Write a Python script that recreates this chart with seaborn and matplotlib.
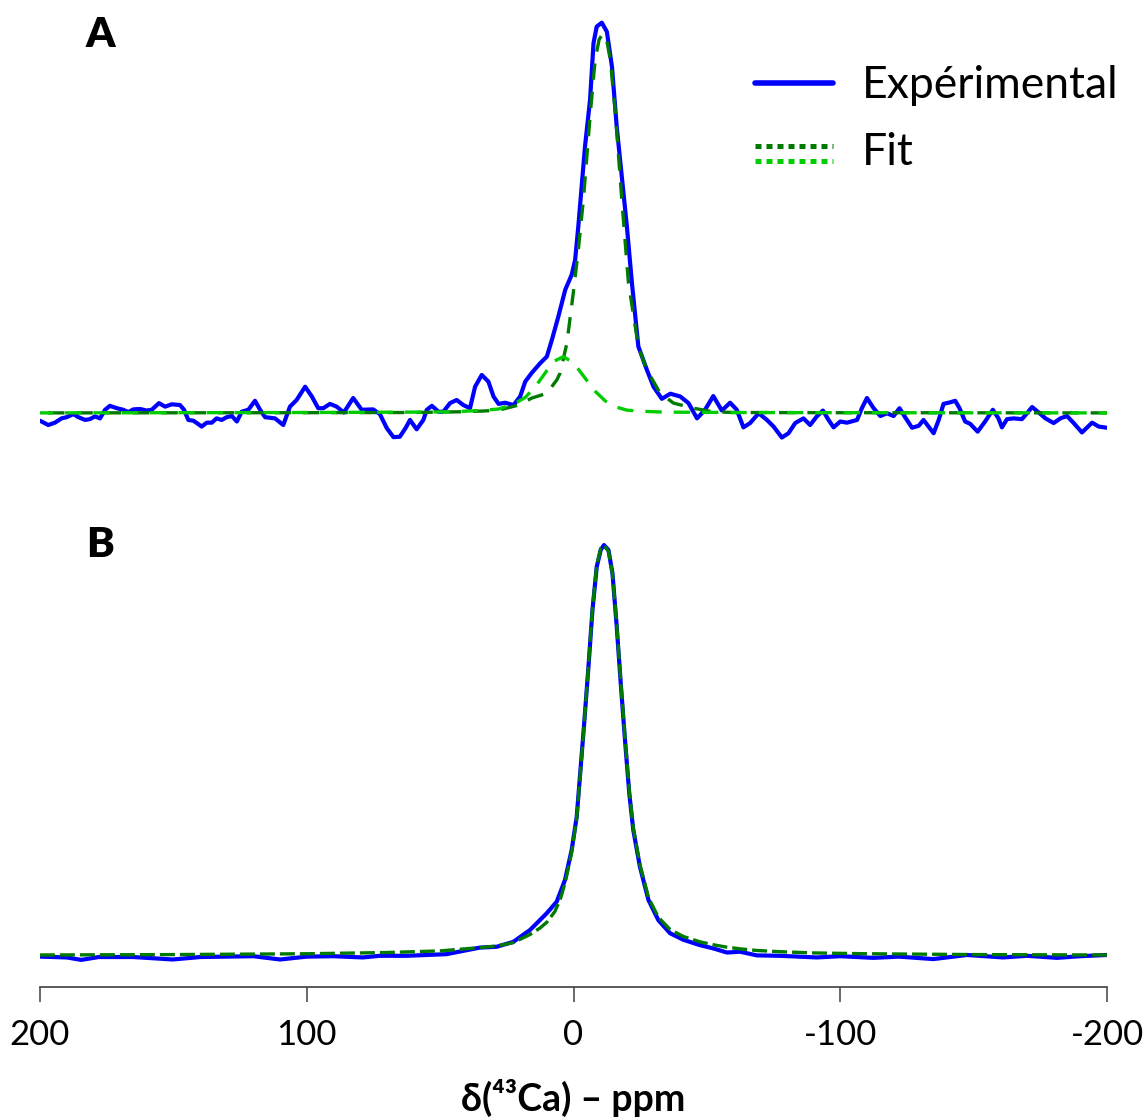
import matplotlib
matplotlib.use("Agg")
import matplotlib.pyplot as plt
import seaborn as sns

# ─── Data ────────────────────────────────────────────────────────────────────
# Panel A: experimental spectrum (noisy), chemical shift in ppm / relative intensity
A_exp_ppm = [200.0, 196.9, 194.4, 191.9, 190.0, 187.5, 185.6, 183.1, 181.3, 179.4,
             177.5, 175.6, 173.8, 171.2, 168.8, 166.9, 165.0, 162.5, 160.0, 158.1,
             155.4, 153.1, 150.6, 147.5, 146.0, 144.4, 142.5, 141.2, 139.4, 137.5,
             135.6, 133.8, 131.9, 130.0, 128.1, 126.2, 124.4, 121.9, 119.4, 117.5,
             115.6, 111.9, 108.8, 106.3, 103.8, 100.6, 98.1, 95.7, 93.8, 91.3,
             88.8, 86.1, 82.6, 79.4, 75.1, 72.6, 70.0, 67.5, 65.1, 62.8,
             61.3, 58.8, 56.3, 55.0, 53.1, 50.6, 48.8, 46.3, 43.8, 41.3,
             38.8, 36.9, 34.4, 31.9, 30.0, 28.1, 25.6, 22.5, 20.0, 18.1,
             15.7, 12.5, 10.0, 8.1, 5.7, 3.1, 0.7, -0.6, -1.8, -2.4,
             -4.3, -6.2, -7.5, -8.7, -10.6, -12.5, -14.4, -16.2, -18.1, -20.0,
             -21.9, -24.3, -27.5, -30.0, -33.1, -36.3, -40.0, -43.1, -46.3, -49.3,
             -52.4, -55.6, -58.7, -61.2, -63.7, -66.2, -69.4, -72.5, -75.0, -78.1,
             -80.6, -83.1, -86.2, -88.7, -91.2, -93.5, -95.6, -97.5, -100.0, -102.5,
             -106.3, -108.1, -110.0, -112.5, -115.0, -117.5, -120.0, -122.2, -124.4, -126.9,
             -129.4, -131.2, -133.1, -135.0, -136.9, -138.7, -141.2, -143.1, -144.7, -146.8,
             -148.7, -151.5, -154.3, -157.2, -159.3, -160.6, -162.5, -165.0, -168.1, -170.0,
             -171.9, -174.4, -176.9, -180.0, -182.5, -185.0, -187.5, -190.6, -194.4, -196.9,
             -200.0]
A_exp_int = [-2.0, -3.1, -2.5, -1.4, -1.1, -0.3, -1.1, -1.8, -1.6, -0.9,
             -1.4, 0.8, 1.8, 1.2, 0.8, 0.2, 0.9, 1.0, 0.6, 0.8,
             2.5, 1.6, 2.2, 2.0, 0.8, -1.8, -2.0, -2.6, -3.5, -2.5,
             -2.5, -1.4, -1.8, -1.1, -0.8, -2.2, 0.3, 0.8, 3.1, 0.8,
             -1.1, -1.4, -3.1, 1.6, 3.3, 6.7, 4.2, 1.2, 1.2, 2.3,
             1.6, 0.1, 3.8, 0.8, 0.9, -0.3, -3.9, -6.2, -6.1, -3.7,
             -1.8, -4.2, -1.8, 0.8, 1.8, 0.3, 0.3, 2.5, 3.3, 2.0,
             1.2, 6.7, 9.7, 8.0, 4.2, 2.3, 2.6, 2.0, 4.2, 8.0,
             10.2, 12.7, 14.4, 18.7, 24.6, 31.5, 35.3, 39.1, 47.7, 52.8,
             68.1, 80.1, 94.6, 98.8, 99.8, 97.5, 88.6, 73.2, 60.4, 47.7,
             33.2, 17.0, 11.0, 6.7, 3.6, 4.9, 4.2, 2.5, -1.4, 0.8,
             4.3, 0.6, 2.6, 0.8, -3.7, -2.6, -0.1, -1.8, -3.5, -6.3,
             -5.2, -2.6, -1.4, -3.1, -0.9, 0.6, -1.8, -3.7, -2.2, -2.5,
             -1.8, 1.2, 3.8, 1.2, -0.8, -0.1, -0.8, 1.2, -1.2, -3.8,
             -3.3, -1.8, -3.5, -5.2, -1.8, 2.3, 2.7, 3.1, 1.2, -2.2,
             -2.8, -4.8, -2.2, 0.8, -1.4, -3.7, -1.6, -1.4, -1.6, -0.1,
             1.5, 0.1, -1.4, -2.6, -1.4, -0.8, -2.6, -5.0, -2.5, -3.5,
             -3.8]

# Panel A: main fitted component (dark green)
A_fit1_ppm = [200, 100, 60, 41, 33, 27.5, 20.6, 15.6, 10.0, 6.3, 5.0, 2.5, 0.1,
              -1.8, -3.7, -6.2, -8.1, -9.6, -11.0, -12.4, -13.8, -15.6, -18.1,
              -20.6, -24.3, -27.5, -32.5, -37.5, -45, -52, -60, -100, -200]
A_fit1_int = [0, 0.05, 0.1, 0.3, 0.5, 0.8, 2.0, 3.8, 5.0, 8.4, 10.2, 17.8, 30.6,
              41.7, 54.5, 75.8, 90.3, 95.5, 97.0, 95.5, 90.3, 77.5, 54.5,
              33.2, 17.0, 11.0, 5.0, 2.5, 1.2, 0.3, 0.1, 0.05, 0]

# Panel A: minor fitted component (light green)
A_fit2_ppm = [200, 100, 60, 45, 35, 28, 22, 18, 14, 10, 7, 3.8, 0, -4, -8,
              -12, -16, -20, -26, -34, -45, -60, -100, -200]
A_fit2_int = [0, 0.1, 0.2, 0.3, 0.6, 1.0, 2.4, 4.0, 7.0, 10.8, 13.3, 14.4, 12.8,
              9.2, 5.6, 3.0, 1.5, 0.7, 0.4, 0.2, 0.15, 0.1, 0.05, 0]

# Panel B: experimental spectrum
B_exp_ppm = [200, 190, 184.5, 178, 165, 150.2, 140, 130, 120, 110, 100, 90, 79,
             72.6, 62.6, 47.6, 35.1, 28.8, 22.6, 16.3, 10.0, 6.3, 3.2, 0.7,
             -1.2, -2.4, -3.9, -5.6, -7.1, -8.7, -10.2, -11.4, -13.1, -14.6,
             -16.2, -17.7, -19.3, -20.9, -22.4, -24.9, -28.1, -31.8, -36.2,
             -41.2, -47.4, -52.4, -57.5, -62.4, -68.7, -77.4, -91.2, -100,
             -112.4, -122, -134.9, -147.5, -161, -170, -181.2, -190, -200]
B_exp_int = [-0.4, -0.6, -1.2, -0.5, -0.5, -1.1, -0.5, -0.4, -0.3, -1.1, -0.4, -0.3, -0.6,
             -0.2, -0.2, 0.2, 1.8, 2.0, 3.2, 6.1, 10.2, 13.0, 18.3, 25.6,
             33.7, 43.5, 55.7, 70.3, 84.1, 94.7, 98.8, 100.0, 98.8, 93.1,
             80.1, 66.3, 52.4, 39.4, 30.5, 21.5, 13.4, 8.5, 5.3,
             3.7, 2.4, 1.6, 0.6, 0.8, -0.1, -0.2, -0.6, -0.3,
             -0.7, -0.4, -1.0, 0.0, -0.6, -0.2, -0.7, -0.3, 0.0]

# Panel B: fit
B_fit_ppm = [200, 150, 100, 70, 50, 35, 28.8, 22.6, 16.3, 12.5, 10, 7, 5, 3.2, 0.7,
             -1.2, -2.4, -3.9, -5.6, -7.1, -8.7, -10.2, -11.4, -13.1, -14.6,
             -16.2, -17.7, -19.3, -20.9, -22.4, -24.9, -28.1, -31.8, -36.2,
             -41.2, -47.4, -52.4, -57.5, -62.4, -68.7, -77.4, -90, -110, -150, -200]
B_fit_int = [0, 0.1, 0.3, 0.6, 1.0, 1.8, 2.2, 3.0, 5.0, 6.6, 8.0, 10.6, 13.5, 17.5, 25.0,
             33.5, 43.0, 55.5, 70.5, 84.5, 95.0, 99.2, 100.0, 98.5, 93.0,
             80.5, 66.8, 53.0, 40.0, 31.0, 22.0, 14.0, 9.2, 6.2,
             4.5, 3.2, 2.5, 1.9, 1.5, 1.1, 0.8, 0.5, 0.3, 0.1, 0]

x_ticks = [200, 100, 0, -100, -200]
x_ticklabels = ["200", "100", "0", "-100", "-200"]

BLUE = "#0000ff"
DARK_GREEN = "#007a00"
LIGHT_GREEN = "#00cc00"

# ─── Style ────────────────────────────────────────────────────────────────────
sns.set_style("white")
plt.rcParams["font.family"] = ["Lato", "DejaVu Sans"]
plt.rcParams["text.color"] = "black"
plt.rcParams["axes.labelcolor"] = "black"
plt.rcParams["xtick.color"] = "black"

fig = plt.figure(figsize=(11.46, 11.19), dpi=100)
ax_a = fig.add_axes([0.0349, 0.58, 0.9311, 0.42])
ax_b = fig.add_axes([0.0349, 0.118, 0.9311, 0.4352])

# ─── Panel A ──────────────────────────────────────────────────────────────────
sns.lineplot(x=A_exp_ppm, y=A_exp_int, ax=ax_a, color=BLUE, linewidth=3.0,
             estimator=None, solid_joinstyle="round")
sns.lineplot(x=A_fit1_ppm, y=A_fit1_int, ax=ax_a, color=DARK_GREEN, linewidth=2.4,
             estimator=None, linestyle=(0, (4.9, 3.6)))
sns.lineplot(x=A_fit2_ppm, y=A_fit2_int, ax=ax_a, color=LIGHT_GREEN, linewidth=2.4,
             estimator=None, linestyle=(2.4, (4.9, 3.6)))
ax_a.set_xlim(200, -200)
ax_a.set_ylim(-14.6, 105.6)
ax_a.axis("off")

# ─── Panel B ──────────────────────────────────────────────────────────────────
sns.lineplot(x=B_exp_ppm, y=B_exp_int, ax=ax_b, color=BLUE, linewidth=3.0,
             estimator=None, solid_joinstyle="round")
sns.lineplot(x=B_fit_ppm, y=B_fit_int, ax=ax_b, color=DARK_GREEN, linewidth=2.4,
             estimator=None, linestyle=(0, (4.5, 1.5)))
ax_b.set_xlim(200, -200)
ax_b.set_ylim(-7.8, 111.0)
ax_b.set_yticks([])
ax_b.set_ylabel("")
for side in ["top", "left", "right"]:
    ax_b.spines[side].set_visible(False)
ax_b.spines["bottom"].set_color("#404040")
ax_b.spines["bottom"].set_linewidth(1.2)
ax_b.set_xticks(x_ticks)
ax_b.set_xticklabels(x_ticklabels)
ax_b.tick_params(axis="x", direction="out", length=11, width=1.1, pad=12,
                 labelsize=25, color="#404040", labelcolor="black", bottom=True)
ax_b.set_xlabel("δ(⁴³Ca) – ppm", fontsize=27, fontweight="bold", labelpad=20,
                color="black")

# ─── Panel letters ────────────────────────────────────────────────────────────
fig.text(0.0873, 0.9687, "A", fontsize=30, fontweight="heavy", ha="center", va="center")
fig.text(0.0873, 0.513, "B", fontsize=30, fontweight="heavy", ha="center", va="center")

# ─── Legend (drawn by hand to stack the two fit styles) ──────────────────────
fig.add_artist(plt.Line2D([0.6588, 0.7269], [0.9258, 0.9258], color=BLUE,
                          linewidth=4.0, transform=fig.transFigure))
fig.add_artist(plt.Line2D([0.6588, 0.7269], [0.8695, 0.8695], color=DARK_GREEN,
                          linewidth=3.6, linestyle=(0, (1.2, 1.0)),
                          transform=fig.transFigure))
fig.add_artist(plt.Line2D([0.6588, 0.7269], [0.8561, 0.8561], color=LIGHT_GREEN,
                          linewidth=3.6, linestyle=(0, (1.2, 1.0)),
                          transform=fig.transFigure))
fig.text(0.7522, 0.9124, "Expérimental", fontsize=32, va="baseline", ha="left")
fig.text(0.7522, 0.8525, "Fit", fontsize=32, va="baseline", ha="left")

fig.savefig("out.png", dpi=100)
